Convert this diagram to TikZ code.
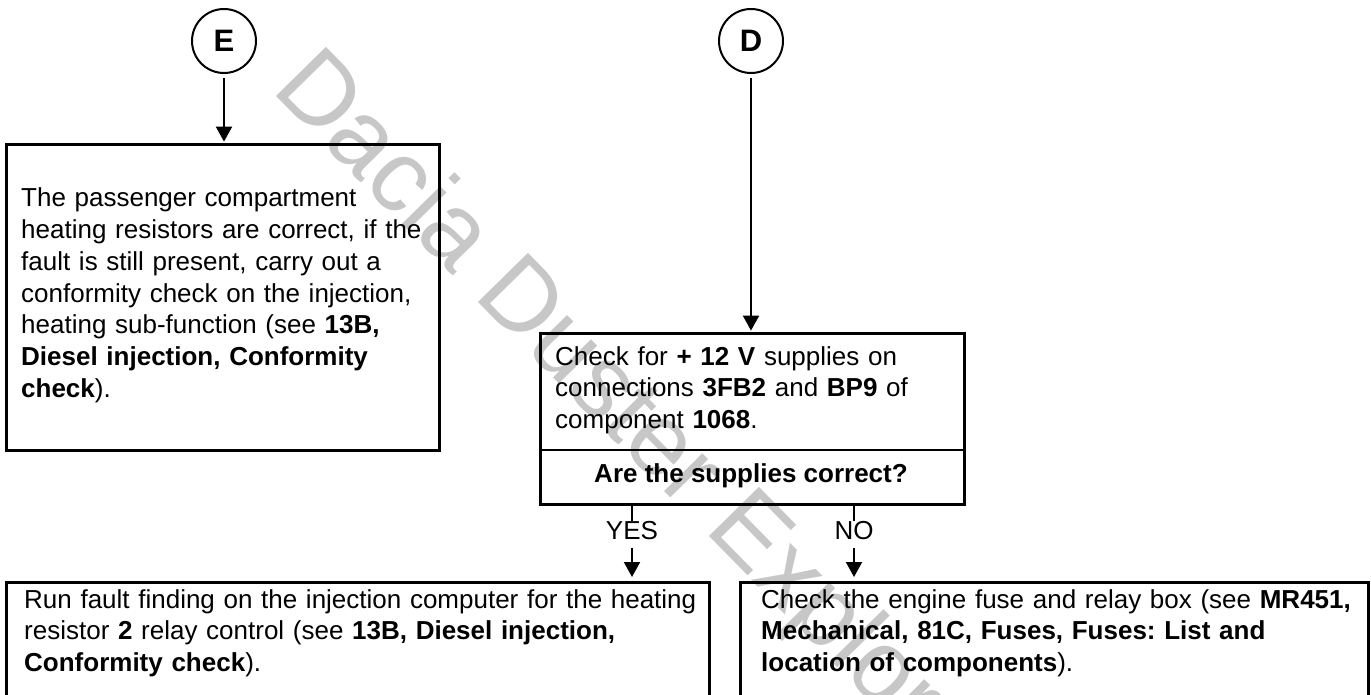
\documentclass[tikz,border=0pt]{standalone}
\usepackage{fontspec}
\setmainfont{Liberation Sans}
\usetikzlibrary{arrows.meta}
\frenchspacing
\begin{document}
\begin{tikzpicture}[x=1pt,y=-1pt,
  every node/.style={font=\fontsize{26}{31.7}\selectfont},
  box/.style={draw, line width=2.8pt, inner sep=0pt, anchor=north west},
  txt/.style={inner sep=0pt, anchor=base west, align=left, text width=#1},
  conn/.style={draw, circle, line width=2pt, minimum size=64pt, inner sep=0pt, font=\fontsize{31}{36}\selectfont\bfseries},
  arr/.style={line width=2pt, -{Triangle[width=16pt,length=15pt]}},
  plainline/.style={line width=2pt},
  divline/.style={line width=2.8pt},
  lbl/.style={inner sep=0pt},
  wm/.style={text=black!22, inner sep=0pt, anchor=base west, font=\fontsize{102}{110}\selectfont, rotate=-45.5}
]
\clip (0,0) rectangle (1371,695);
\useasboundingbox (0,0) rectangle (1371,695);

% watermark
\node[wm] (wmk) at (270,90) {Dacia Duster Explorer};

% connector circles
\node[conn] (E) at (224,41) {E};
\node[conn] (D) at (751,41) {D};

% boxes
\node[box, minimum width=433pt, minimum height=306pt] (ebox) at (5,143) {};
\node[box, minimum width=424pt, minimum height=171pt] (dbox) at (539,332) {};
\node[box, minimum width=703pt, minimum height=200pt] (lbox) at (5,581) {};
\node[box, minimum width=628pt, minimum height=200pt] (rbox) at (739,581) {};

% divider in D box
\coordinate (divL) at (539,450);
\coordinate (divR) at (963,450);
\draw[divline] (divL) -- (divR);

% texts
\node[txt=420pt] (et) at (21,207) {The passenger compartment\\
heating resistors are correct, if the\\
fault is still present, carry out a\\
conformity check on the injection,\\
heating sub-function (see \textbf{13B,}\\
\textbf{Diesel injection, Conformity}\\
\textbf{check}).};

\node[txt=400pt] (dt) at (555,365) {Check for \textbf{+ 12 V} supplies on\\
connections \textbf{3FB2} and \textbf{BP9} of\\
component \textbf{1068}.};

\node[lbl, anchor=base] (q) at (751,482) {\textbf{Are the supplies correct?}};

\node[txt=690pt] (lt) at (24,608) {Run fault finding on the injection computer for the heating\\
resistor \textbf{2} relay control (see \textbf{13B, Diesel injection,}\\
\textbf{Conformity check}).};

\node[txt=620pt] (rt) at (761,608) {Check the engine fuse and relay box (see \textbf{MR451,}\\
\textbf{Mechanical, 81C, Fuses, Fuses: List and}\\
\textbf{location of components}).};

% labels
\node[lbl] (yes) at (632,530.5) {YES};
\node[lbl] (no) at (854,530.5) {NO};

% connectors
\draw[arr, shorten >=1.4pt] ([yshift=-4pt]E.south) -- (ebox.north -| E);
\draw[arr, shorten >=1.4pt] ([yshift=-4pt]D.south) -- (dbox.north -| D);
\draw[plainline] (dbox.south -| yes) -- (yes.north);
\draw[plainline] (dbox.south -| no) -- (no.north);
\draw[arr, shorten >=4pt] ([yshift=-8pt]yes.south) -- (lbox.north -| yes);
\draw[arr, shorten >=4pt] ([yshift=-8pt]no.south) -- (rbox.north -| no);
\end{tikzpicture}
\end{document}
